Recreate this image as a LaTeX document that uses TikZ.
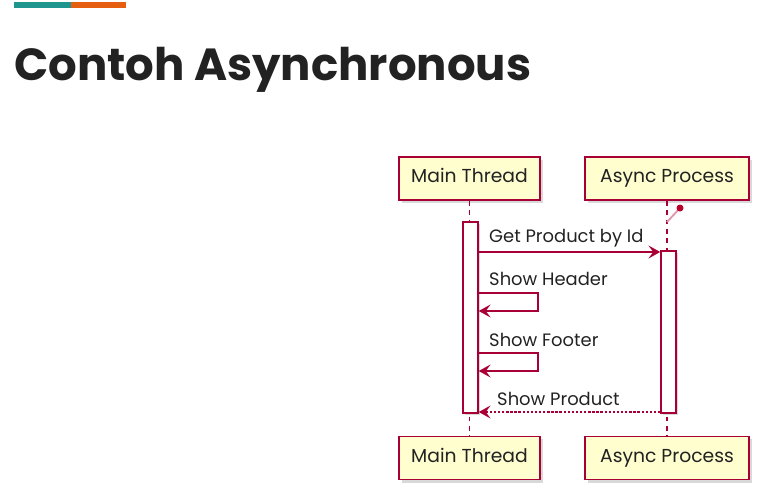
\documentclass[tikz,border=0pt]{standalone}
\usepackage{fontspec}
\setmainfont{Poppins}
\usetikzlibrary{arrows.meta,shadows}
\definecolor{umlred}{HTML}{A80036}
\definecolor{umlkuning}{HTML}{FEFECE}
\definecolor{tosca}{HTML}{1F958F}
\definecolor{jingga}{HTML}{E65F10}
\definecolor{tinta}{HTML}{222222}
\begin{document}
\begin{tikzpicture}[x=0.03cm,y=-0.03cm]
\tikzset{
    peserta/.style={draw=umlred, fill=umlkuning, line width=1.3pt, minimum height=1.3cm,
        font=\fontsize{16}{18}\selectfont, text=tinta, text height=0.7em, text depth=0pt,
        drop shadow={shadow xshift=2.5pt, shadow yshift=-2.5pt, opacity=.3}},
    aktif/.style={draw=umlred, fill=white, line width=1.3pt, minimum width=0.45cm, inner sep=0pt,
        drop shadow={shadow xshift=2pt, shadow yshift=-2pt, opacity=.3}},
    hidup/.style={draw=umlred, dash pattern=on 4pt off 4pt, line width=1pt},
    pesan/.style={draw=umlred, line width=1.3pt, -{Stealth[length=10pt,width=11pt,inset=4pt]}},
    balik/.style={pesan, dash pattern=on 2pt off 1.5pt},
    etiqueta/.style={anchor=west, font=\fontsize{15.3}{17}\selectfont, text=tinta, inner sep=0pt}
}
\useasboundingbox (0,0) rectangle (763,496);
% garis judul
\fill[tosca] (14,2) rectangle (71,8);
\fill[jingga] (71,2) rectangle (126,8);
\node[anchor=base west, inner sep=0pt, text=tinta, font=\fontsize{38.4}{42}\selectfont\bfseries] (judul) at (14,80) {Contoh Asynchronous};
% peserta atas dan bawah
\node[peserta, minimum width=4.23cm] (main1) at (469.5,178.5) {Main Thread};
\node[peserta, minimum width=4.92cm] (async1) at (667,178.5) {Async Process};
\node[peserta, minimum width=4.23cm] (main2) at (469.5,458) {Main Thread};
\node[peserta, minimum width=4.92cm] (async2) at (667,458) {Async Process};
% garis hidup
\draw[hidup] (main1.south) -- (main2.north);
\draw[hidup] (async1.south) -- (async2.north);
% batang aktivasi
\node[aktif, minimum height=5.73cm] (act1) at (470.5,317.5) {};
\node[aktif, minimum height=4.86cm] (act2) at (668.5,332) {};
% penanda
\coordinate (pin) at (680,208);
\draw[umlred!40, line width=1.6pt] (667,222) -- (pin);
\fill[umlred!80!red] (pin) circle (3.5);
% pesan
\coordinate (y1) at (0,252);
\coordinate (h1) at (0,293);
\coordinate (h2) at (0,311);
\coordinate (f1) at (0,353);
\coordinate (f2) at (0,371);
\coordinate (y4) at (0,412);
\coordinate (sisi) at (538,0);
\draw[pesan] (act1.east |- y1) -- (act2.west |- y1);
\draw[pesan] (act1.east |- h1) -- (sisi |- h1) -- (sisi |- h2) -- (act1.east |- h2);
\draw[pesan] (act1.east |- f1) -- (sisi |- f1) -- (sisi |- f2) -- (act1.east |- f2);
\draw[balik] (act2.west |- y4) -- (act1.east |- y4);
% label pesan
\node[etiqueta] (m1) at (489,238) {Get Product by Id};
\node[etiqueta] (m2) at (489,279) {Show Header};
\node[etiqueta] (m3) at (489,340) {Show Footer};
\node[etiqueta] (m4) at (497,399) {Show Product};
\end{tikzpicture}
\end{document}
